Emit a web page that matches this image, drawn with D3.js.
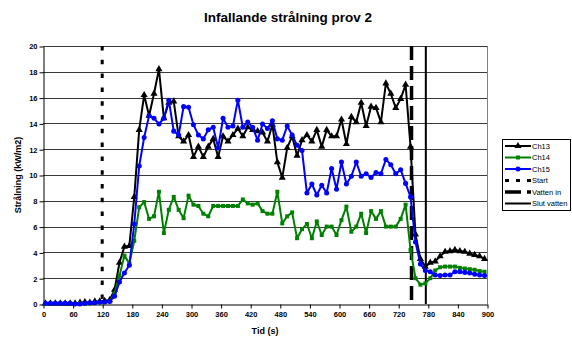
<!DOCTYPE html>
<html><head><meta charset="utf-8">
<script src="https://cdn.jsdelivr.net/npm/d3@7/dist/d3.min.js"></script>
<style>
body{margin:0;background:#fff}
svg{display:block}
text{font-family:Arial,"Liberation Sans",sans-serif;fill:#000}
</style>
</head><body>
<svg id="chart" width="572" height="340"></svg>
<script>
// Sampling times (s)
const times = [5,15,25,35,45,55,65,75,85,95,105,115,125,135,145,155,165,175,185,195,
  205,215,225,235,245,255,265,275,285,295,305,315,325,335,345,355,365,375,385,395,
  405,415,425,435,445,455,465,475,485,495,505,515,525,535,545,555,565,575,585,595,
  605,615,625,635,645,655,665,675,685,695,705,715,725,735,745,755,765,775,785,795,
  805,815,825,835,845,855,865,875,885,895];

// Incident radiation (kW/m2) per channel
const ch13 = [0.05,0.05,0.05,0.05,0.05,0.05,0.05,0.1,0.15,0.1,0.2,0.2,0.25,0.3,
  1.1,3.2,4.45,4.5,8.3,
  13.5,16.2,14.6,16.3,18.2,14.4,15.6,15.7,13.0,12.6,13.1,
  11.4,12.2,11.4,12.2,12.8,11.4,13.0,12.6,13.1,13.6,
  13.0,13.7,13.5,13.4,13.3,12.6,13.9,11.0,9.8,12.1,
  13.0,11.5,12.7,13.1,12.6,13.5,12.2,13.5,13.0,13.0,
  14.3,12.4,14.5,14.1,15.6,13.8,15.3,15.2,14.1,17.1,
  16.3,15.2,15.9,17.0,12.2,5.4,3.5,2.9,3.2,3.3,
  3.7,4.05,4.1,4.2,4.1,4.05,3.9,3.8,3.7,3.5];

const ch14 = [0.0,0.05,0.05,0.05,0.05,0.05,0.0,0.05,0.0,0.05,0.1,0.1,0.15,0.2,
  0.8,2.2,3.75,3.15,4.9,
  7.5,7.9,6.6,6.8,8.7,5.5,7.3,8.3,7.3,6.65,8.4,
  7.7,7.6,7.0,6.8,7.6,7.6,7.6,7.6,7.6,7.6,
  8.1,7.8,7.7,7.8,7.2,7.0,7.0,8.7,6.25,6.8,
  7.1,5.1,5.8,6.2,5.1,6.4,5.35,6.0,6.0,5.35,
  6.5,7.55,5.6,6.0,7.0,5.5,7.2,6.6,7.2,6.0,
  6.0,6.0,6.6,7.7,4.2,2.0,1.5,1.6,2.0,2.6,
  2.85,2.9,2.9,2.9,2.8,2.75,2.7,2.65,2.55,2.5];

const ch15 = [0.05,0.05,0.05,0.05,0.05,0.05,0.0,0.0,0.05,0.1,0.1,0.15,0.15,0.2,
  0.6,1.7,2.4,3.0,6.2,
  10.7,12.9,14.6,14.4,13.95,14.4,15.8,13.4,13.1,15.3,15.25,
  13.9,13.1,12.8,13.5,13.7,12.1,14.4,13.7,13.8,15.8,
  13.7,14.1,13.7,12.7,13.95,13.6,14.2,12.8,12.7,13.8,
  13.1,12.3,11.9,8.6,9.3,8.45,9.2,8.6,10.5,8.9,
  11.0,9.3,9.9,11.0,9.9,10.1,9.8,10.2,10.1,11.2,
  10.8,10.1,10.4,9.35,8.3,4.8,3.1,2.6,2.5,2.25,
  2.2,2.25,2.25,2.5,2.5,2.45,2.4,2.3,2.25,2.2];

// Event times (s)
const eventTimes = [120, 747, 776];
const eventNames = ["Start", "Vatten in", "Slut vatten"];

const seriesNames = ["Ch13", "Ch14", "Ch15"];
const seriesColors = ["#000000", "#008000", "#0000ff"];

const xTicks = [0,60,120,180,240,300,360,420,480,540,600,660,720,780,840,900];
const yTicks = [0,2,4,6,8,10,12,14,16,18,20];

const titleText = "Infallande strålning prov 2";
const xTitle = "Tid (s)";
const yTitle = "Strålning (kW/m2)";

// ---------- drawing ----------
const svg = d3.select("#chart");
const plot = {left: 43, right: 487, top: 46, bottom: 304};

const x = d3.scaleLinear().domain([0, 900]).range([plot.left, plot.right]);
const y = d3.scaleLinear().domain([0, 20]).range([plot.bottom, plot.top]);

svg.append("rect").attr("width", 572).attr("height", 340).attr("fill", "#fff");

// horizontal gridlines
svg.append("g").selectAll("line").data(yTicks.filter(d => d > 0)).join("line")
  .attr("x1", plot.left).attr("x2", plot.right)
  .attr("y1", d => Math.round(y(d)) + 0.5).attr("y2", d => Math.round(y(d)) + 0.5)
  .attr("stroke", "#3a3a3a").attr("stroke-width", 1);

// plot area right edge
svg.append("line")
  .attr("x1", plot.right + 0.5).attr("x2", plot.right + 0.5)
  .attr("y1", plot.top).attr("y2", plot.bottom)
  .attr("stroke", "#808080").attr("stroke-width", 1);

// axes
const yAxis = svg.append("g")
  .attr("transform", `translate(${plot.left + 0.5},0.5)`)
  .call(d3.axisLeft(y).tickValues(yTicks).tickSize(4).tickSizeOuter(0).tickPadding(2));
const xAxis = svg.append("g")
  .attr("transform", `translate(0.5,${plot.bottom + 0.5})`)
  .call(d3.axisBottom(x).tickValues(xTicks).tickSize(4).tickSizeOuter(0).tickPadding(3));
[yAxis, xAxis].forEach(g => {
  g.select(".domain").attr("stroke", "#000");
  g.selectAll(".tick line").attr("stroke", "#000");
  g.selectAll(".tick text").attr("fill", "#000")
    .style("font-size", "7.5px").style("font-weight", "bold")
    .style("font-family", "Arial, 'Liberation Sans', sans-serif");
});

// event lines
const eventStyles = [
  {width: 3, dash: "4.5,9.3"},
  {width: 3.5, dash: "14,6"},
  {width: 2, dash: null}
];
eventTimes.forEach((t, i) => {
  svg.append("line")
    .attr("x1", x(t)).attr("x2", x(t))
    .attr("y1", y(20)).attr("y2", y(0))
    .attr("stroke", "#000")
    .attr("stroke-width", eventStyles[i].width)
    .attr("stroke-dasharray", eventStyles[i].dash);
});

// data series
const seriesData = [ch13, ch14, ch15];
const symbols = [d3.symbolTriangle, d3.symbolSquare, d3.symbolCircle];
const symbolSizes = [22, 16, 20];
const line = d3.line().x(d => x(d[0])).y(d => y(d[1]));

seriesData.forEach((vals, i) => {
  const pts = times.map((t, j) => [t, vals[j]]);
  const g = svg.append("g");
  g.append("path").datum(pts)
    .attr("d", line).attr("fill", "none")
    .attr("stroke", seriesColors[i]).attr("stroke-width", 2)
    .attr("stroke-linejoin", "round");
  g.selectAll("path.m").data(pts).join("path").attr("class", "m")
    .attr("transform", d => `translate(${x(d[0])},${y(d[1])})`)
    .attr("d", d3.symbol(symbols[i], symbolSizes[i]))
    .attr("fill", seriesColors[i]);
});

// title and axis titles
svg.append("text").attr("x", 288).attr("y", 22).attr("text-anchor", "middle")
  .style("font-size", "13.5px").style("font-weight", "bold").text(titleText);
svg.append("text").attr("x", 265).attr("y", 334).attr("text-anchor", "middle")
  .style("font-size", "9px").style("font-weight", "bold").text(xTitle);
svg.append("text").attr("transform", `translate(21,${(plot.top + plot.bottom) / 2}) rotate(-90)`)
  .attr("text-anchor", "middle")
  .style("font-size", "9px").style("font-weight", "bold").text(yTitle);

// legend
const lg = svg.append("g").attr("transform", "translate(502,139)");
lg.append("rect").attr("x", 0.5).attr("y", 0.5).attr("width", 68).attr("height", 71)
  .attr("fill", "#fff").attr("stroke", "#000").attr("stroke-width", 1);
const legendItems = seriesNames.map((n, i) => ({name: n, color: seriesColors[i], symbol: symbols[i], size: symbolSizes[i], width: 2, dash: null}))
  .concat(eventNames.map((n, i) => ({name: n, color: "#000", symbol: null, width: eventStyles[i].width, dash: eventStyles[i].dash ? (i === 0 ? "4,7" : "16,6") : null})));
legendItems.forEach((it, i) => {
  const cy = 7 + i * 11.5;
  lg.append("line").attr("x1", 3).attr("x2", 29).attr("y1", cy).attr("y2", cy)
    .attr("stroke", it.color).attr("stroke-width", it.width)
    .attr("stroke-dasharray", it.dash);
  if (it.symbol) {
    lg.append("path").attr("transform", `translate(16,${cy})`)
      .attr("d", d3.symbol(it.symbol, it.size)).attr("fill", it.color);
  }
  lg.append("text").attr("x", 30).attr("y", cy + 2.8).attr("fill", "#000")
    .style("font-size", "7.5px").text(it.name);
});
</script>
</body></html>
